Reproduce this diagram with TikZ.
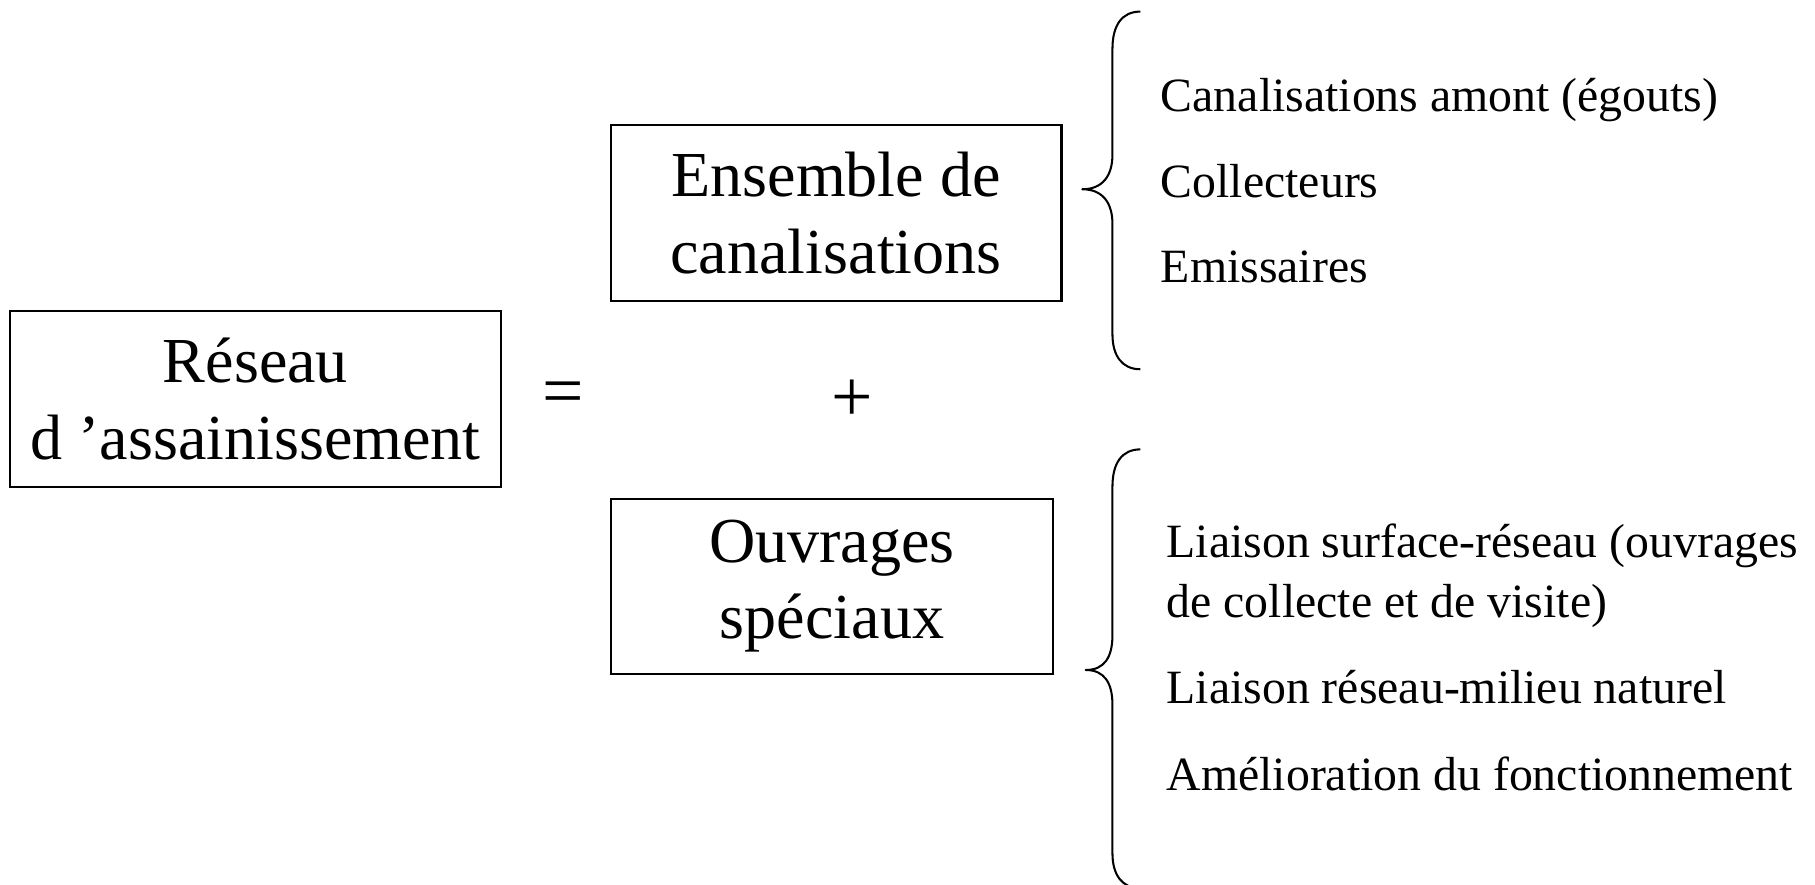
\documentclass[tikz,border=0pt]{standalone}
\usepackage{fontspec}
\setmainfont{Liberation Serif}
\begin{document}
\begin{tikzpicture}[x=0.01cm,y=-0.01cm,
  bigtext/.style={font=\fontsize{15.7}{18.7}\selectfont},
  optext/.style={font=\fontsize{18}{20}\selectfont, inner sep=0pt},
  smalltext/.style={font=\fontsize{11.7}{14.8}\selectfont, anchor=base west, inner sep=0pt},
  mainbox/.style={draw, line width=0.5pt, align=center, inner sep=0pt, bigtext},
  bracestyle/.style={draw, line width=0.5pt, line join=round}]
\useasboundingbox (0,0) rectangle (1563,762);
% boxes
\node[mainbox, minimum width=4.22cm, minimum height=1.51cm] (reseau) at (220,343.5) {Réseau\\d ’assainissement};
\node[mainbox, minimum width=3.88cm, minimum height=1.51cm] (ensemble) at (720,183.5) {Ensemble de\\canalisations};
\node[mainbox, minimum width=3.81cm, minimum height=1.50cm] (ouvrages) at (716.5,505) {Ouvrages\\spéciaux};
% operators
\node[optext] (eq) at (485,343) {=};
\node[optext] (plus) at (734,345) {+};
% top brace
\coordinate (b1top) at (982,10);
\coordinate (b1tip) at (932,163);
\coordinate (b1bot) at (982,318);
\draw[bracestyle] (b1top) .. controls (966,10) and (958,22) .. (958,42) -- (958,133)
  .. controls (958,152) and (949,163) .. (b1tip)
  .. controls (949,163) and (958,174) .. (958,193) -- (958,288)
  .. controls (958,306) and (966,318) .. (b1bot);
% bottom brace
\coordinate (b2top) at (982,387);
\coordinate (b2tip) at (935,577);
\coordinate (b2bot) at (982,765);
\draw[bracestyle] (b2top) .. controls (966,387) and (958,399) .. (958,419) -- (958,547)
  .. controls (958,566) and (951,577) .. (b2tip)
  .. controls (951,577) and (958,588) .. (958,607) -- (958,735)
  .. controls (958,753) and (966,765) .. (b2bot);
% items, top
\node[smalltext] (c1) at (999,96) {Canalisations amont (égouts)};
\node[smalltext] (c2) at (999,170) {Collecteurs};
\node[smalltext] (c3) at (999,243) {Emissaires};
% items, bottom
\node[smalltext] (o1a) at (1004,480) {Liaison surface-réseau (ouvrages};
\node[smalltext] (o1b) at (1004,532) {de collecte et de visite)};
\node[smalltext] (o2) at (1004,606) {Liaison réseau-milieu naturel};
\node[smalltext] (o3) at (1004,681) {Amélioration du fonctionnement};
\end{tikzpicture}
\end{document}
